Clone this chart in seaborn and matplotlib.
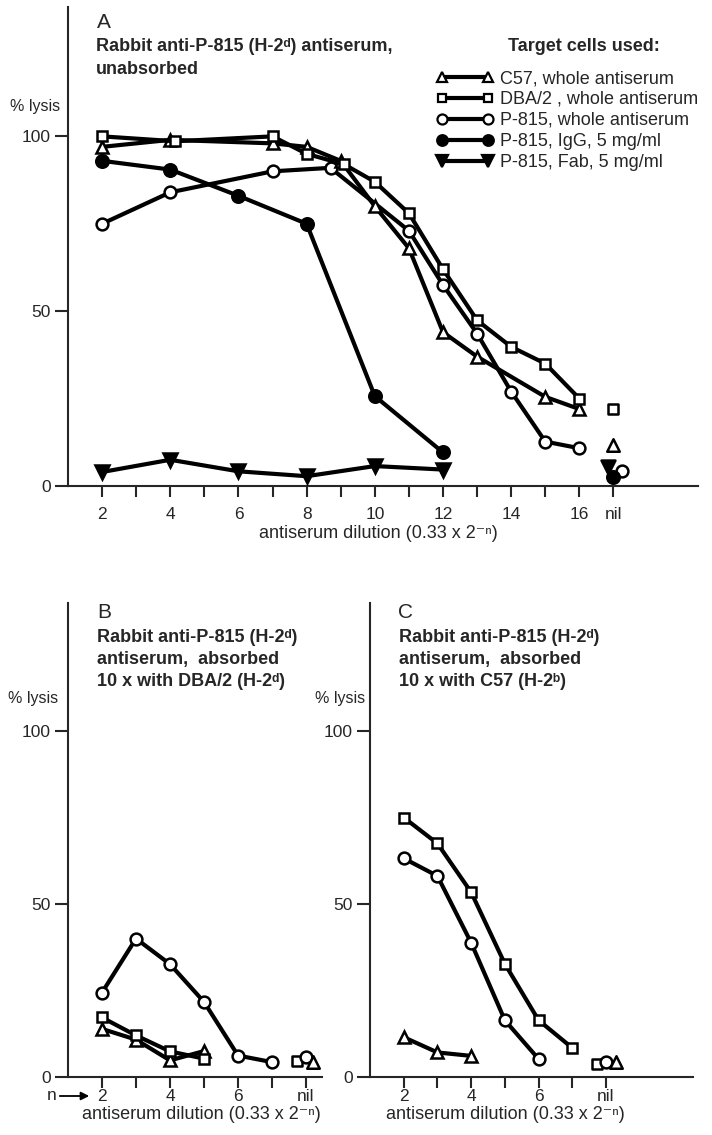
import matplotlib
matplotlib.use('Agg')
import matplotlib.pyplot as plt
import seaborn as sns
from matplotlib.lines import Line2D

# ---- panel A: antiserum unabsorbed ----
a_c57_x = [2, 4, 7, 8, 9, 10, 11, 12, 13, 15, 16]
a_c57_y = [97, 99, 98, 97, 93, 80, 68, 44, 37, 25.5, 22]
a_dba_x = [2, 4.15, 7, 8, 9.1, 10, 11, 12, 13, 14, 15, 16]
a_dba_y = [100, 98.6, 100, 95, 92, 87, 78, 62, 47.4, 39.8, 35, 25]
a_p815_x = [2, 4, 7, 8.7, 11, 12, 13, 14, 15, 16]
a_p815_y = [75, 84, 90, 91, 73, 57.5, 43.6, 27, 12.7, 10.8]
a_igg_x = [2, 4, 6, 8, 10, 12]
a_igg_y = [93, 90.5, 83, 75, 25.7, 9.6]
a_fab_x = [2, 4, 6, 8, 10, 12]
a_fab_y = [4, 7.5, 4.2, 2.8, 5.7, 4.7]
# nil = no antiserum
a_nil_keys = ['c57', 'dba', 'p815', 'igg', 'fab']
a_nil_x = [17, 17, 17.25, 17, 16.85]
a_nil_y = [11.7, 22, 4.4, 2.6, 5.5]

# ---- panel B: absorbed with DBA/2 ----
b_p815_x = [2, 3, 4, 5, 6, 7]
b_p815_y = [24.4, 40, 32.6, 21.7, 6.2, 4.3]
b_dba_x = [2, 3, 4, 5]
b_dba_y = [17.2, 12, 7.4, 5.3]
b_c57_x = [2, 3, 4, 5]
b_c57_y = [13.9, 10.8, 4.8, 7.5]
b_nil_keys = ['dba', 'p815', 'c57']
b_nil_x = [7.73, 8, 8.2]
b_nil_y = [4.5, 5.7, 4.3]

# ---- panel C: absorbed with C57 ----
c_dba_x = [2, 3, 4, 5, 6, 7]
c_dba_y = [75, 67.5, 53.4, 32.7, 16.4, 8.4]
c_p815_x = [2, 3, 4, 5, 6]
c_p815_y = [63.2, 58.1, 38.8, 16.4, 5.2]
c_c57_x = [2, 3, 4]
c_c57_y = [11.5, 7.1, 6.1]
c_nil_keys = ['dba', 'p815', 'c57']
c_nil_x = [7.73, 8, 8.3]
c_nil_y = [3.9, 4.2, 4.2]

legend_keys = ['c57', 'dba', 'p815', 'igg', 'fab']
legend_labels = ['C57, whole antiserum', 'DBA/2 , whole antiserum',
                 'P-815, whole antiserum', 'P-815, IgG, 5 mg/ml',
                 'P-815, Fab, 5 mg/ml']

# marker, face colour, size
STYLE = {
    'c57': ('^', 'white', 9),
    'dba': ('s', 'white', 7.5),
    'p815': ('o', 'white', 8.5),
    'igg': ('o', 'black', 9),
    'fab': ('v', 'black', 10),
}

sns.set_style('ticks')
plt.rcParams['font.family'] = ['Liberation Sans', 'DejaVu Sans']
plt.rcParams['axes.linewidth'] = 1.5

W, H = 712, 1135
fig = plt.figure(figsize=(W / 100, H / 100), dpi=100)


def rect(l, r, b, t):
    return [l / W, 1 - b / H, (r - l) / W, (b - t) / H]


axA = fig.add_axes(rect(68, 698, 486, 7))
axB = fig.add_axes(rect(68, 322, 1077, 603))
axC = fig.add_axes(rect(370, 693, 1077, 603))


def draw(ax, x, y, key):
    m, fc, ms = STYLE[key]
    sns.lineplot(x=x, y=y, ax=ax, color='black', lw=3, marker=m, markersize=ms,
                 markerfacecolor=fc, markeredgecolor='black', markeredgewidth=1.8,
                 sort=False, zorder=3)


def draw_nil(ax, keys, xs, ys):
    for k, x, y in zip(keys, xs, ys):
        m, fc, ms = STYLE[k]
        sns.scatterplot(x=[x], y=[y], ax=ax, marker=m, s=ms ** 2, color=fc,
                        edgecolor='black', linewidth=1.8, zorder=4)


draw(axA, a_fab_x, a_fab_y, 'fab')
draw(axA, a_igg_x, a_igg_y, 'igg')
draw(axA, a_p815_x, a_p815_y, 'p815')
draw(axA, a_c57_x, a_c57_y, 'c57')
draw(axA, a_dba_x, a_dba_y, 'dba')
draw_nil(axA, a_nil_keys, a_nil_x, a_nil_y)

draw(axB, b_p815_x, b_p815_y, 'p815')
draw(axB, b_c57_x, b_c57_y, 'c57')
draw(axB, b_dba_x, b_dba_y, 'dba')
draw_nil(axB, b_nil_keys, b_nil_x, b_nil_y)

draw(axC, c_dba_x, c_dba_y, 'dba')
draw(axC, c_p815_x, c_p815_y, 'p815')
draw(axC, c_c57_x, c_c57_y, 'c57')
draw_nil(axC, c_nil_keys, c_nil_x, c_nil_y)

xlabel = 'antiserum dilution (0.33 x 2\u207b\u207f)'


def style_axis(ax, xmax, last, label_x, label_y, pad):
    ax.set_xlim(1, xmax)
    ax.set_ylim(0, 137)
    ticks = list(range(2, last + 1))
    ax.set_xticks(ticks)
    ax.set_xticklabels([('nil' if t == last else (str(t) if t % 2 == 0 else ''))
                        for t in ticks])
    ax.set_yticks([0, 50, 100])
    ax.tick_params(axis='x', direction='out', length=8, width=1.5, pad=pad,
                   labelsize=12.5)
    ax.tick_params(axis='y', direction='out', length=9.5, width=1.5, pad=3,
                   labelsize=12.5)
    ax.set_xlabel(xlabel, fontsize=13)
    ax.xaxis.set_label_coords(label_x, label_y)
    ax.set_ylabel('')
    sns.despine(ax=ax)


style_axis(axA, 19.48, 17, 0.492, -0.082, 7)
style_axis(axB, 8.47, 8, 0.524, -0.061, 0.5)
style_axis(axC, 10.58, 8, 0.418, -0.061, 0.5)


def ftext(x, y, s, **kw):
    fig.text(x / W, 1 - y / H, s, **kw)


# panel letters and titles
ftext(97, 23, 'A', fontsize=15, va='center')
ftext(96, 38, 'Rabbit anti-P-815 (H-2\u1d48) antiserum,\nunabsorbed',
      fontsize=13, fontweight='bold', va='top', linespacing=1.45)
ftext(508, 38, 'Target cells used:', fontsize=13, fontweight='bold', va='top')
ftext(97, 612, 'B', fontsize=15, va='center')
ftext(97, 629, 'Rabbit anti-P-815 (H-2\u1d48)\nantiserum,  absorbed\n10 x with DBA/2 (H-2\u1d48)',
      fontsize=13, fontweight='bold', va='top', linespacing=1.38)
ftext(398, 613, 'C', fontsize=15, va='center')
ftext(399, 629, 'Rabbit anti-P-815 (H-2\u1d48)\nantiserum,  absorbed\n10 x with C57 (H-2\u1d47)',
      fontsize=13, fontweight='bold', va='top', linespacing=1.38)

# y-axis titles
ftext(60, 107, '% lysis', fontsize=11.5, ha='right', va='center')
ftext(58, 699, '% lysis', fontsize=11.5, ha='right', va='center')
ftext(365, 699, '% lysis', fontsize=11.5, ha='right', va='center')

# "n ->" marker in panel B
ftext(47, 1096, 'n', fontsize=12.5, va='center')
fig.add_artist(matplotlib.patches.FancyArrowPatch(
    (57 / W, 1 - 1096 / H), (92 / W, 1 - 1096 / H), transform=fig.transFigure,
    arrowstyle='-|>', mutation_scale=12, lw=1.3, color='black'))

# legend
handles = []
for k in legend_keys:
    m, fc, ms = STYLE[k]
    handles.append(Line2D([0], [0], color='black', lw=3, marker=m, markersize=ms * 0.85,
                          markerfacecolor=fc, markeredgecolor='black',
                          markeredgewidth=1.6))
fig.legend(handles, legend_labels, loc='upper left',
           bbox_to_anchor=(437 / W, 1 - 70 / H), frameon=False, numpoints=2,
           fontsize=13, handlelength=3.1, handletextpad=0.4, labelspacing=0.22,
           borderpad=0, borderaxespad=0)

fig.savefig('out.png', dpi=100)
